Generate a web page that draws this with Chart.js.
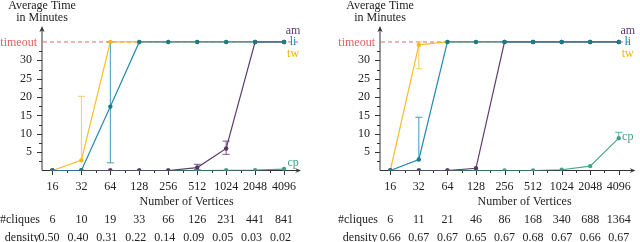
<!DOCTYPE html>
<html><head><meta charset="utf-8">
<script src="https://cdn.jsdelivr.net/npm/chart.js@4/dist/chart.umd.min.js"></script>
<style>
html,body{margin:0;padding:0;background:#fff;width:640px;height:242px;overflow:hidden}
canvas{position:absolute;top:0}
#c1{left:0}
#c2{left:338px}
</style></head><body>
<canvas id="c1" width="338" height="242"></canvas>
<canvas id="c2" width="302" height="242"></canvas>
<script>
// ---------- data ----------
const vertices = ['16','32','64','128','256','512','1024','2048','4096'];
const yTicks = [5, 10, 15, 20, 25, 30];
const TIMEOUT = 35;

// left panel
const leftTw = [0, 2.8, 35, 35, 35, 35, 35, 35, 35];
const leftLi = [0, 0, 17.4, 35, 35, 35, 35, 35, 35];
const leftAm = [0, 0, 0, 0, 0, 0.8, 6.0, 35, 35];
const leftCp = [0, 0, 0, 0, 0, 0, 0.05, 0.1, 0.4];
const leftTwErr = [null, [2.8, 20.2], null, null, null, null, null, null, null];
const leftLiErr = [null, null, [2.1, 35], null, null, null, null, null, null];
const leftAmErr = [null, null, null, null, null, [0.2, 1.7], [4.4, 8.0], null, null];
const leftCpErr = [null, null, null, null, null, null, null, null, null];
const leftCliques = ['6','10','19','33','66','126','231','441','841'];
const leftDensity = ['0.50','0.40','0.31','0.22','0.14','0.09','0.05','0.03','0.02'];

// right panel
const rightTw = [0, 34.2, 35, 35, 35, 35, 35, 35, 35];
const rightLi = [0, 3.0, 35, 35, 35, 35, 35, 35, 35];
const rightAm = [0, 0, 0, 0.6, 35, 35, 35, 35, 35];
const rightCp = [0, 0, 0, 0, 0, 0, 0.2, 1.2, 8.8];
const rightTwErr = [null, [27.7, 35], null, null, null, null, null, null, null];
const rightLiErr = [null, [3.0, 14.5], null, null, null, null, null, null, null];
const rightAmErr = [null, null, null, null, null, null, null, null, null];
const rightCpErr = [null, null, null, null, null, null, null, null, [8.8, 10.4]];
const rightCliques = ['6','11','21','46','86','168','340','688','1364'];
const rightDensity = ['0.66','0.67','0.67','0.65','0.67','0.68','0.67','0.66','0.67'];

// ---------- style ----------
const FONT = '"Liberation Serif", "DejaVu Serif", serif';
const TXT = '#222';
const AXIS = '#333';
const C = {
  tw: {line:'#F7BE2B', pt:'#F5B820', err:'#F8CB63', label:'#F2B400'},
  li: {line:'#2389B0', pt:'#1A7A8C', err:'#3A9CC4', label:'#2389B0'},
  am: {line:'#5E3A6E', pt:'#5A3668', err:'#7B5A8B', label:'#5E3A6E'},
  cp: {line:'#4BA58E', pt:'#449E88', err:'#5AB09A', label:'#3FA08A'}
};

function xy(arr){ return arr.map((v,i)=>({x:i, y:v})); }

function buildPanel(id, s, cliques, density, densityShift, cpLabelDy) {
  const canvas = document.getElementById(id);
  const W = canvas.width;
  const mk = (key, data) => ({
    label: key, data: xy(data), borderColor: C[key].line,
    pointBackgroundColor: C[key].pt, pointBorderColor: C[key].pt,
    borderWidth: 1.2, pointRadius: 2.2, pointBorderWidth: 0, tension: 0
  });
  const errSets = [['tw', s.twErr, s.tw], ['cp', s.cpErr, s.cp], ['am', s.amErr, s.am], ['li', s.liErr, s.li]];

  const deco = {
    id: 'deco',
    beforeDatasetsDraw(chart) {
      const {ctx, chartArea: a, scales: {x, y}} = chart;
      ctx.save();
      // axes
      ctx.strokeStyle = AXIS; ctx.fillStyle = AXIS; ctx.lineWidth = 1;
      ctx.beginPath();
      ctx.moveTo(a.left, a.bottom); ctx.lineTo(a.left, a.top + 2);
      ctx.moveTo(a.left, a.bottom); ctx.lineTo(a.right - 2, a.bottom);
      ctx.stroke();
      // arrows
      ctx.beginPath();
      ctx.moveTo(a.left, a.top - 2); ctx.lineTo(a.left - 2.6, a.top + 4); ctx.lineTo(a.left, a.top + 2.6); ctx.lineTo(a.left + 2.6, a.top + 4); ctx.closePath();
      ctx.fill();
      ctx.beginPath();
      ctx.moveTo(a.right + 1, a.bottom); ctx.lineTo(a.right - 5, a.bottom - 2.6); ctx.lineTo(a.right - 2.6, a.bottom); ctx.lineTo(a.right - 5, a.bottom + 2.6); ctx.closePath();
      ctx.fill();
      // y ticks
      ctx.beginPath();
      yTicks.forEach(v => { const p = Math.round(y.getPixelForValue(v)) + 0.5; ctx.moveTo(a.left - 5, p); ctx.lineTo(a.left, p); });
      for (let v = 2.5; v < 34; v += 5) { const p = Math.round(y.getPixelForValue(v)) + 0.5; ctx.moveTo(a.left - 3, p); ctx.lineTo(a.left, p); }
      // x ticks
      vertices.forEach((_, i) => { const p = Math.round(x.getPixelForValue(i)) + 0.5; ctx.moveTo(p, a.bottom); ctx.lineTo(p, a.bottom + 4.5); });
      for (let i = 0.5; i < vertices.length - 1; i += 1) { const p = Math.round(x.getPixelForValue(i)) + 0.5; ctx.moveTo(p, a.bottom); ctx.lineTo(p, a.bottom + 2.5); }
      ctx.stroke();
      // timeout line
      const ty = y.getPixelForValue(TIMEOUT);
      ctx.strokeStyle = '#E06A6A'; ctx.setLineDash([4, 3]);
      ctx.beginPath(); ctx.moveTo(a.left + 1, ty); ctx.lineTo(a.right - 2, ty); ctx.stroke();
      ctx.setLineDash([]);
      // error bars
      ctx.lineWidth = 1;
      errSets.forEach(([key, errs, vals]) => {
        ctx.strokeStyle = C[key].err;
        errs.forEach((e, i) => {
          if (!e) return;
          const px = x.getPixelForValue(i);
          const lo = y.getPixelForValue(e[0]), hi = y.getPixelForValue(e[1]);
          const v = y.getPixelForValue(vals[i]);
          ctx.beginPath();
          ctx.moveTo(px, lo); ctx.lineTo(px, hi);
          ctx.moveTo(px - 3.5, hi); ctx.lineTo(px + 3.5, hi);
          if (Math.abs(lo - v) > 0.5) { ctx.moveTo(px - 3.5, lo); ctx.lineTo(px + 3.5, lo); }
          ctx.stroke();
        });
      });
      ctx.restore();
    },
    afterDraw(chart) {
      const {ctx, chartArea: a, scales: {x, y}} = chart;
      ctx.save();
      ctx.font = '12px ' + FONT;
      ctx.textBaseline = 'middle';
      // y title
      ctx.fillStyle = TXT; ctx.textAlign = 'center';
      ctx.fillText('Average Time', a.left, 6);
      ctx.fillText('in Minutes', a.left, 17.5);
      // timeout label
      ctx.fillStyle = '#E06060'; ctx.textAlign = 'right';
      ctx.fillText('timeout', a.left - 5, y.getPixelForValue(TIMEOUT) + 0.5);
      // x title
      ctx.fillStyle = TXT; ctx.textAlign = 'center';
      ctx.fillText('Number of Vertices', 186.6, 202);
      // table
      ctx.textAlign = 'right';
      ctx.fillText('#cliques', 40, 220);
      ctx.fillText('density', 39.5, 238);
      ctx.textAlign = 'center';
      cliques.forEach((t, i) => ctx.fillText(t, x.getPixelForValue(i), 220));
      density.forEach((t, i) => ctx.fillText(t, x.getPixelForValue(i) + densityShift, 238));
      // series labels
      const lx = x.getPixelForValue(8) + 9;
      const ty = y.getPixelForValue(TIMEOUT);
      ctx.fillStyle = C.am.label; ctx.fillText('am', lx, ty - 11);
      ctx.fillStyle = C.li.label; ctx.fillText('li', lx, ty);
      ctx.fillStyle = C.tw.label; ctx.fillText('tw', lx, ty + 11.5);
      ctx.fillStyle = C.cp.label; ctx.fillText('cp', lx, y.getPixelForValue(s.cp[8]) + cpLabelDy);
      ctx.restore();
    }
  };

  return new Chart(canvas, {
    type: 'line',
    data: { datasets: [mk('li', s.li), mk('am', s.am), mk('cp', s.cp), mk('tw', s.tw)] },
    options: {
      responsive: false, animation: false, devicePixelRatio: 1,
      layout: { padding: { left: 0, right: W - 300, top: 28, bottom: 0 } },
      plugins: { legend: { display: false }, tooltip: { enabled: false } },
      scales: {
        x: {
          type: 'linear', min: -0.36, max: 8.55,
          grid: { display: false, drawTicks: false }, border: { display: false },
          afterBuildTicks: sc => { sc.ticks = vertices.map((_, i) => ({ value: i })); },
          ticks: { callback: (v, i) => vertices[i], font: { family: FONT, size: 12 }, color: TXT, padding: 9, maxRotation: 0, autoSkip: false },
          afterFit: sc => { sc.height = 71.5; }
        },
        y: {
          type: 'linear', min: 0, max: 38.8,
          grid: { display: false, drawTicks: false }, border: { display: false },
          afterBuildTicks: sc => { sc.ticks = yTicks.map(v => ({ value: v })); },
          ticks: { font: { family: FONT, size: 12 }, color: TXT, padding: 10 },
          afterFit: sc => { sc.width = 42; }
        }
      }
    },
    plugins: [deco]
  });
}

buildPanel('c1', {tw:leftTw, li:leftLi, am:leftAm, cp:leftCp, twErr:leftTwErr, liErr:leftLiErr, amErr:leftAmErr, cpErr:leftCpErr}, leftCliques, leftDensity, -3.5, -6);
buildPanel('c2', {tw:rightTw, li:rightLi, am:rightAm, cp:rightCp, twErr:rightTwErr, liErr:rightLiErr, amErr:rightAmErr, cpErr:rightCpErr}, rightCliques, rightDensity, 0, -1.5);
</script>
</body></html>
